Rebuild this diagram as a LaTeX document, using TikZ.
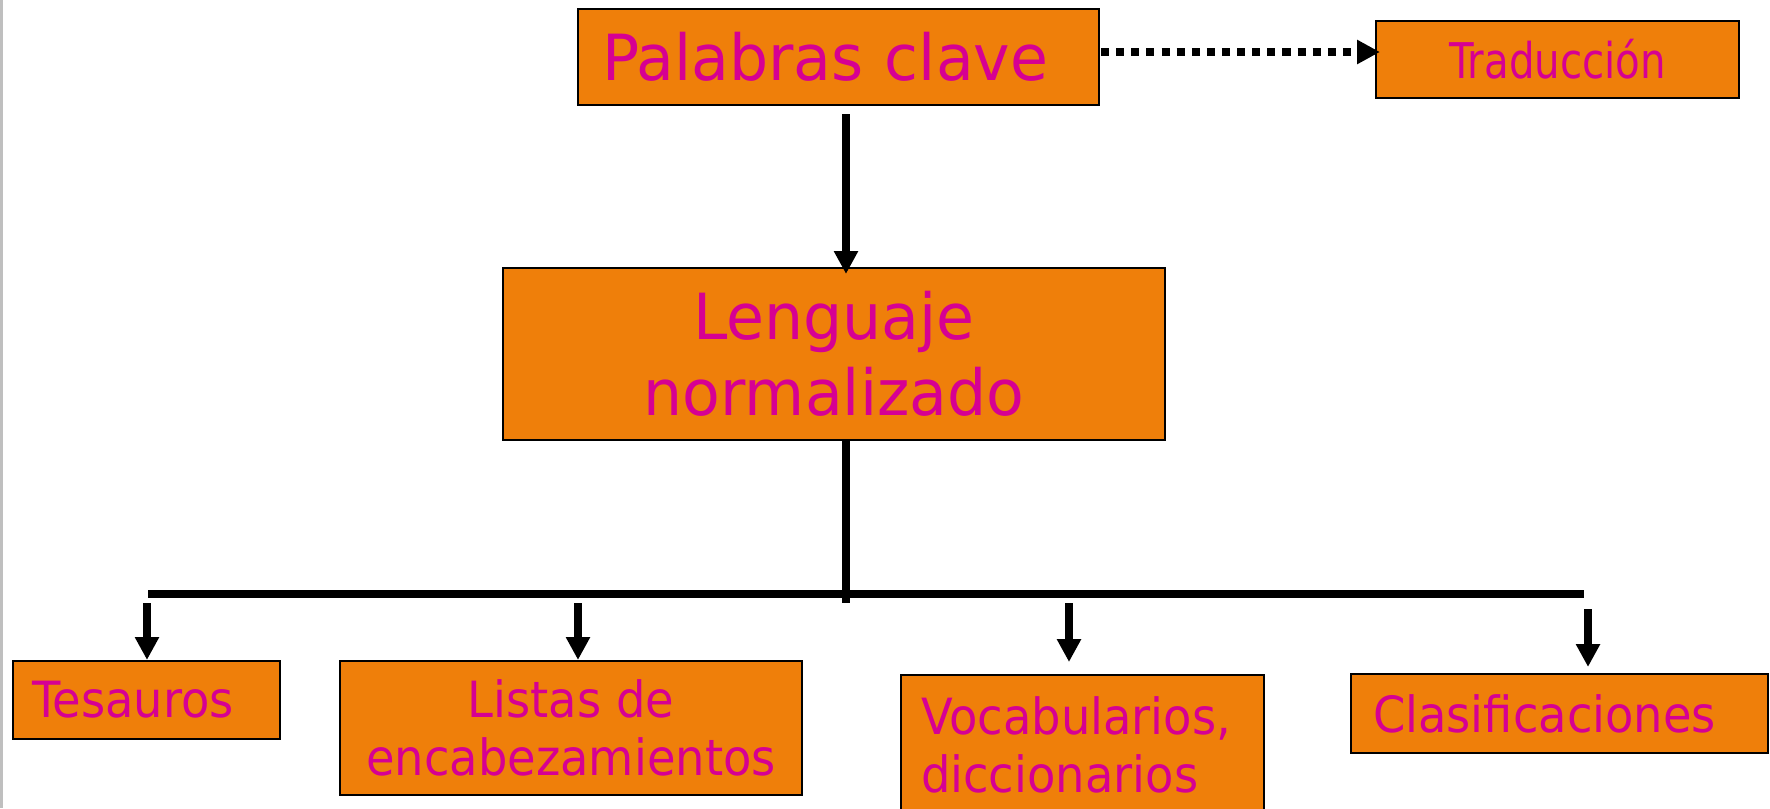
\documentclass[tikz,border=0pt]{standalone}
\usepackage{fontspec}
\setmainfont{DejaVu Sans}
\newfontfamily\bigface{DejaVu Sans}[FakeStretch=0.97]
\newfontfamily\midface{DejaVu Sans}[FakeStretch=0.93]
\newfontfamily\narrowface{DejaVu Sans}[FakeStretch=0.82]
\usetikzlibrary{arrows.meta, calc}

\definecolor{boxorange}{RGB}{239,127,10}
\definecolor{txtmagenta}{RGB}{214,0,147}

\newcommand{\bigtxt}{\bigface\fontsize{18.1}{21.6}\selectfont}
\newcommand{\midtxt}{\midface\fontsize{14.2}{16.5}\selectfont}
\newcommand{\smalltxt}{\narrowface\fontsize{14.0}{16.5}\selectfont}

\begin{document}
\begin{tikzpicture}[
    box/.style={draw=black, line width=0.6pt, fill=boxorange, text=txtmagenta, inner sep=0pt},
    bar/.style={line width=2.2pt},
    arr/.style={line width=2.2pt, -{Triangle[width=6.5pt, length=6.5pt]}},
    dotarr/.style={line width=2pt, dash pattern=on 2.3pt off 2pt, -{Triangle[width=6.5pt, length=6.5pt]}}]
    \useasboundingbox (0,0) rectangle (17.70,-8.08);
    \clip (0,0) rectangle (17.70,-8.08);
    % Frame edge
    \draw[gray!50, line width=1pt] (0.01,0) -- (0.01,-8.08);
    % Top
    \node[box, minimum width=5.21cm, minimum height=0.96cm, text width=4.73cm, align=left, font=\bigtxt] (palabras) at (8.385,-0.57) {Palabras clave};
    \node[box, minimum width=3.63cm, minimum height=0.77cm, font=\smalltxt] (traduccion) at (15.575,-0.595) {Traducción};
    \node[box, minimum width=6.62cm, minimum height=1.72cm, align=center, font=\bigtxt] (lenguaje) at (8.34,-3.54) {Lenguaje\\normalizado};
    % Bottom row
    \node[box, minimum width=2.67cm, minimum height=0.78cm, text width=2.29cm, align=left, font=\midtxt] (tesauros) at (1.465,-7.00) {Tesauros};
    \node[box, minimum width=4.62cm, minimum height=1.34cm, align=center, font=\midtxt] (listas) at (5.71,-7.28) {Listas de\\encabezamientos};
    \node[box, anchor=north west, text width=3.23cm, inner xsep=0.2cm, inner ysep=0.22cm, align=left, font=\midtxt] (vocab) at (9.00,-6.74) {Vocabularios,\\diccionarios};
    \node[box, minimum width=4.17cm, minimum height=0.79cm, text width=3.73cm, align=left, font=\midtxt] (clasif) at (15.595,-7.135) {Clasificaciones};
    % Connectors
    \coordinate (trunk) at (8.46,-5.94);
    \coordinate (barL) at (1.48,-5.94);
    \coordinate (barR) at (15.84,-5.94);
    \draw[dotarr] ($(palabras.east)+(0.01,0.05)$) -- ($(palabras.east -| traduccion.west)+(0.05,0.05)$);
    \draw[arr] ($(palabras.south -| trunk)+(0,-0.08)$) -- ($(lenguaje.north -| trunk)+(0,-0.07)$);
    \draw[bar] (lenguaje.south -| trunk) -- ($(trunk)+(0,-0.09)$);
    \draw[bar] (barL) -- (barR);
    \coordinate (dTes) at (1.47,-6.03);
    \coordinate (dLis) at (5.78,-6.03);
    \coordinate (dVoc) at (10.69,-6.03);
    \coordinate (dCla) at (15.88,-6.09);
    \foreach \c/\n/\s in {dTes/tesauros/0, dLis/listas/0, dVoc/vocab/0.12, dCla/clasif/0.06}
        \draw[arr, shorten >=\s cm] (\c) -- (\c |- \n.north);
\end{tikzpicture}
\end{document}
